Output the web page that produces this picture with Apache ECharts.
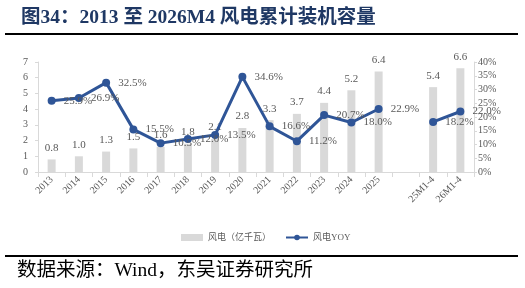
<!DOCTYPE html>
<html>
<head>
<meta charset="utf-8">
<script src="https://cdn.jsdelivr.net/npm/echarts@6/dist/echarts.min.js"></script>
<style>
  html, body { margin: 0; padding: 0; background: #fff; }
  #main { width: 525px; height: 288px; }
</style>
</head>
<body>
<div id="main"></div>
<script>
// 数据
var categories = ['2013', '2014', '2015', '2016', '2017', '2018', '2019', '2020', '2021', '2022', '2023', '2024', '2025', '', '25M1-4', '26M1-4'];
var windCapacity = [0.8, 1.0, 1.3, 1.5, 1.6, 1.8, 2.1, 2.8, 3.3, 3.7, 4.4, 5.2, 6.4, null, 5.4, 6.6];
var windYoy = [25.9, 26.9, 32.5, 15.5, 10.5, 12.0, 13.5, 34.6, 16.6, 11.2, 20.7, 18.0, 22.9, null, 18.2, 22.0];
var leftTicks = [0, 7, 1];
var rightTicks = [0, 40, 5];

var serif = '"Times New Roman", "Liberation Serif", "Noto Sans CJK SC", serif';
var grey = '#595959';

var chart = echarts.init(document.getElementById('main'));
var option = {
    animation: false,
    title: {
        text: '图34：2013 至 2026M4 风电累计装机容量',
        left: 16, top: 3,
        textStyle: { fontFamily: serif, fontWeight: 'bold', fontSize: 19.5, color: '#1f3864' }
    },
    graphic: [
        { type: 'rect', shape: { x: 5, y: 33, width: 513, height: 2 }, style: { fill: '#000' } },
        { type: 'rect', shape: { x: 5, y: 255, width: 513, height: 2 }, style: { fill: '#000' } },
        {
            type: 'text', left: 17, top: 261,
            style: { text: '数据来源：Wind，东吴证券研究所', font: '19.5px ' + serif, fill: '#000' }
        }
    ],
    legend: {
        top: 228, left: 176,
        itemGap: 14, itemWidth: 22, itemHeight: 7,
        textStyle: { fontFamily: serif, fontSize: 9, color: grey },
        data: [
            { name: '风电（亿千瓦）', icon: 'rect' },
            { name: '风电YOY' }
        ]
    },
    grid: { left: 38, right: 51, top: 62, bottom: 116 },
    xAxis: {
        type: 'category',
        data: categories,
        axisLine: { lineStyle: { color: '#d9d9d9' } },
        axisTick: { show: true, lineStyle: { color: '#d9d9d9' } },
        axisLabel: { rotate: 45, fontFamily: serif, fontSize: 10, color: grey, interval: 0, margin: 6 }
    },
    yAxis: [
        {
            type: 'value', min: leftTicks[0], max: leftTicks[1], interval: leftTicks[2],
            splitLine: { show: false },
            axisLine: { show: true, lineStyle: { color: '#d9d9d9' } },
            axisTick: { show: true, length: 3, lineStyle: { color: '#d9d9d9' } },
            axisLabel: { fontFamily: serif, fontSize: 10, color: grey, margin: 10 }
        },
        {
            type: 'value', min: rightTicks[0], max: rightTicks[1], interval: rightTicks[2],
            splitLine: { show: false },
            axisLine: { show: true, lineStyle: { color: '#d9d9d9' } },
            axisTick: { show: true, length: 3, lineStyle: { color: '#d9d9d9' } },
            axisLabel: { fontFamily: serif, fontSize: 10, color: grey, margin: 4, formatter: '{value}%' }
        }
    ],
    series: [
        {
            name: '风电（亿千瓦）',
            type: 'bar',
            barWidth: 8,
            data: windCapacity,
            itemStyle: { color: '#d9d9d9' },
            label: {
                show: true, position: 'top', distance: 6,
                fontFamily: serif, fontSize: 11, color: grey,
                formatter: function (p) { return p.value.toFixed(1); }
            }
        },
        {
            name: '风电YOY',
            type: 'line',
            yAxisIndex: 1,
            data: windYoy,
            connectNulls: false,
            symbol: 'circle',
            symbolSize: 8,
            lineStyle: { color: '#2f5597', width: 3 },
            itemStyle: { color: '#2f5597' },
            label: {
                show: true, position: 'right', distance: 8,
                fontFamily: serif, fontSize: 11, color: grey,
                formatter: function (p) { return p.value.toFixed(1) + '%'; }
            }
        }
    ]
};
chart.setOption(option);
</script>
</body>
</html>
